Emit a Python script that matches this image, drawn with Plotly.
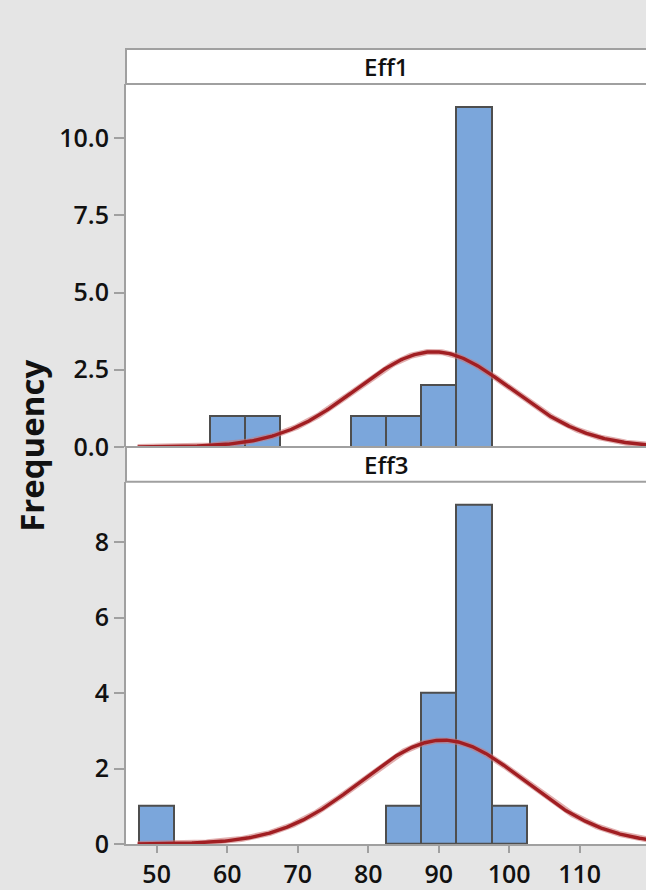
import numpy as np
import plotly.graph_objects as go

# ---- data ----
bin_width = 5
eff1_centers = [60, 65, 80, 85, 90, 95, 100]
eff1_counts = [1, 1, 1, 1, 2, 11, 0]
eff3_centers = [50, 85, 90, 95, 100]
eff3_counts = [1, 1, 4, 9, 1]

# normal fit parameters (mean, sd, n)
eff1_fit = (89.3, 11.0, 17)
eff3_fit = (90.6, 11.6, 16)

x_ticks = [50, 60, 70, 80, 90, 100, 110]
eff1_yticks = [0, 2.5, 5.0, 7.5, 10.0]
eff3_yticks = [0, 2, 4, 6, 8]

panel_titles = ["Eff1", "Eff3"]

# ---- style ----
BG = "#E5E5E5"
BAR = "#7BA6DB"
EDGE = "#4E4E4E"
AXC = "#A0A0A0"
CURVE = "#A11E22"
HALO = "rgba(205,120,120,0.6)"
FONT = "Open Sans"

x_range = [45.65, 119.4]
curve_x = np.linspace(47.3, 120.5, 400)

fig = go.Figure()

def add_panel(centers, counts, fit, xa, ya):
    fig.add_trace(go.Bar(
        x=centers, y=counts, width=bin_width,
        marker=dict(color=BAR, line=dict(color=EDGE, width=2)),
        xaxis=xa, yaxis=ya, showlegend=False, hoverinfo="x+y"))
    # zero-count bins drawn as an outline on the baseline
    for c, n in zip(centers, counts):
        if n == 0:
            fig.add_trace(go.Scatter(
                x=[c - bin_width / 2, c + bin_width / 2], y=[0, 0],
                mode="lines", line=dict(color=EDGE, width=2),
                xaxis=xa, yaxis=ya, showlegend=False, hoverinfo="skip"))
    mu, sd, n = fit
    dens = n * bin_width / (sd * np.sqrt(2 * np.pi)) * np.exp(-0.5 * ((curve_x - mu) / sd) ** 2)
    fig.add_trace(go.Scatter(x=curve_x, y=dens, mode="lines",
                             line=dict(color=HALO, width=6),
                             xaxis=xa, yaxis=ya, showlegend=False, hoverinfo="skip"))
    fig.add_trace(go.Scatter(x=curve_x, y=dens, mode="lines",
                             line=dict(color=CURVE, width=3.4),
                             xaxis=xa, yaxis=ya, showlegend=False, hoverinfo="skip"))

add_panel(eff1_centers, eff1_counts, eff1_fit, "x", "y")
add_panel(eff3_centers, eff3_counts, eff3_fit, "x2", "y2")

tickfont = dict(family=FONT, size=25, color="#111111", weight=600)

top1, bot1 = 0.956, 0.4994
top2 = 0.4556

fig.update_layout(
    width=646, height=890,
    margin=dict(l=126, r=0, t=49, b=42),
    paper_bgcolor=BG, plot_bgcolor="white",
    bargap=0,
    xaxis=dict(domain=[0, 1], range=x_range, showticklabels=False, ticks="",
               showgrid=False, zeroline=False, showline=False, anchor="y"),
    xaxis2=dict(domain=[0, 1], range=x_range, matches="x", anchor="y2",
                tickvals=x_ticks, ticktext=[str(v) for v in x_ticks],
                ticks="outside", ticklen=7, tickwidth=2, tickcolor=AXC,
                showline=True, linecolor=AXC, linewidth=2,
                showgrid=False, zeroline=False,
                tickfont=dict(family=FONT, size=25, color="#111111", weight=600)),
    yaxis=dict(domain=[bot1, top1], range=[0, 11.75], anchor="x",
               tickvals=eff1_yticks, ticktext=[f"{v:.1f}" for v in eff1_yticks],
               ticks="outside", ticklen=10, tickwidth=2, tickcolor=AXC,
               showline=True, linecolor=AXC, linewidth=2,
               showgrid=False, zeroline=False, tickfont=tickfont),
    yaxis2=dict(domain=[0, top2], range=[0, 9.6], anchor="x2",
                tickvals=eff3_yticks, ticktext=[str(v) for v in eff3_yticks],
                ticks="outside", ticklen=10, tickwidth=2, tickcolor=AXC,
                showline=True, linecolor=AXC, linewidth=2,
                showgrid=False, zeroline=False, tickfont=tickfont),
)

# strip headers
strips = [(top1, 1.0, panel_titles[0]), (top2, bot1, panel_titles[1])]
for y0, y1, title in strips:
    fig.add_shape(type="rect", xref="paper", yref="paper", x0=0, x1=1.02, y0=y0, y1=y1,
                  fillcolor="white", line=dict(color=AXC, width=2), layer="above")
    fig.add_annotation(xref="paper", yref="paper", x=0.5, y=(y0 + y1) / 2,
                       text=title, showarrow=False, xanchor="center", yanchor="middle",
                       font=dict(family=FONT, size=24, color="#111111", weight=600))

fig.add_annotation(xref="paper", yref="paper", x=-0.183, y=0.5006,
                   text="Frequency", textangle=-90, showarrow=False,
                   xanchor="center", yanchor="middle",
                   font=dict(family=FONT, size=33, color="#111111", weight=700))

fig.write_html("out.html", config={"displayModeBar": False},
               post_script="document.body.style.margin='0';document.body.style.overflow='hidden';")
